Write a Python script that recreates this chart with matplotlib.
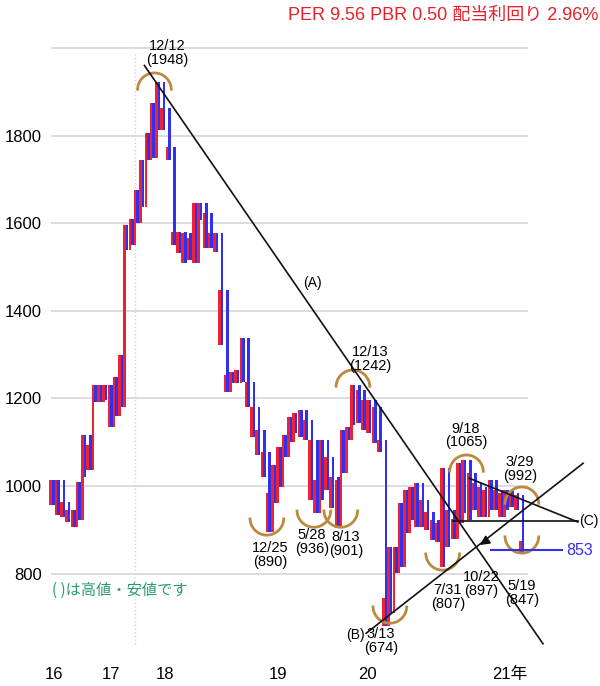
import matplotlib
matplotlib.use("Agg")
import matplotlib.pyplot as plt
from matplotlib.patches import Arc
from matplotlib import font_manager

# weekly boxes, left to right (high / low of each box)
bar_hi = [1014, 1014, 963, 945, 945, 1009, 1116, 1094, 1230, 1230,
          1230, 1230, 1250, 1299, 1596, 1610, 1676, 1744, 1806, 1874,
          1922, 1863, 1774, 1580, 1580, 1578, 1566, 1646, 1646, 1623,
          1578, 1578, 1447, 1253, 1260, 1265, 1338, 1237, 1180, 1128,
          1078, 984, 1048, 1089, 1116, 1157, 1166, 1173, 1151, 1105,
          1014, 1105, 1066, 1020, 1014, 1128, 1135, 1230, 1219, 1196,
          1196, 1180, 1105, 745, 861, 861, 961, 991, 998, 1007,
          968, 941, 922, 916, 1041, 945, 925, 1052, 1059, 1030,
          1007, 998, 991, 1014, 991, 984, 991, 984, 979, 875]
bar_lo = [957, 934, 929, 918, 906, 922, 1020, 1036, 1192, 1192,
          1196, 1135, 1160, 1180, 1539, 1550, 1600, 1637, 1744, 1749,
          1813, 1813, 1744, 1550, 1532, 1509, 1516, 1509, 1607, 1543,
          1543, 1534, 1322, 1215, 1235, 1235, 1237, 1180, 1112, 1071,
          1020, 895, 961, 998, 1066, 1100, 1121, 1112, 1105, 968,
          938, 968, 991, 950, 905, 1030, 1105, 1140, 1144, 1128,
          1121, 1098, 1078, 680, 710, 801, 815, 893, 922, 906,
          906, 900, 877, 872, 815, 860, 880, 915, 938, 922,
          945, 929, 929, 945, 945, 929, 945, 952, 945, 850]

year_pos = [0.4, 11.2, 21.4, 42.8, 59.8, 86.7]
year_labels = ["16", "17", "18", "19", "20", "21年"]

# circled highs / lows: (x, centre price, label, label x, label y)
tops = [(19.4, 1904, "12/12\n(1948)", 21.8, 1989),
        (57.0, 1226, "12/13\n(1242)", 60.2, 1290),
        (78.5, 1032, "9/18\n(1065)", 78.4, 1116),
        (89.0, 959, "3/29\n(992)", 88.6, 1039)]
bottoms = [(40.7, 927, "12/25\n(890)", 41.3, 843),
           (49.6, 945, "5/28\n(936)", 49.2, 872),
           (54.7, 945, "8/13\n(901)", 55.7, 868),
           (64.0, 726, "3/13\n(674)", 62.3, 646),
           (74.0, 847, "7/31\n(807)", 75.0, 747),
           (89.0, 886, "5/19\n(847)", 89.0, 756)]
extra_labels = [(81.3, 776, "10/22\n(897)")]

# trend lines (x0, p0, x1, p1)
line_a = (17.5, 1960, 93.0, 640)
line_b = (59.5, 664, 100.6, 1052)
line_c_up = (79.0, 1018, 99.6, 918)
line_c_flat = (76.0, 921, 99.6, 921)
support = 853

RED = "#ee2233"
BLUE = "#3030ee"
ARC = "#bb8a3e"


def pick(names):
    for n in names:
        try:
            font_manager.findfont(n, fallback_to_default=False)
            return n
        except Exception:
            pass
    return "DejaVu Sans"


base = pick(["Liberation Sans", "Arial"])
narrow = pick(["Liberation Sans Narrow", "Liberation Sans"])
plt.rcParams["font.family"] = [base, "Noto Sans CJK JP"]

fig = plt.figure(figsize=(6, 6.86), dpi=100)
ax = fig.add_axes([45 / 600, 1 - 660 / 686, 555 / 600, 630 / 686])
ax.set_xlim(-1.33, 103.8)
ax.set_ylim(603, 2041)
for s in ax.spines.values():
    s.set_visible(False)

# grid
ax.hlines([800, 1000, 1200, 1400, 1600, 1800, 2000], -0.2, 90.2,
          color="#d9d9d9", lw=1.3, zorder=0)
ax.vlines(15.7, 640, 1990, color="#e2cdd3", lw=1, ls=":", zorder=0)

# boxes: red stripe left, blue stripe right
for i in range(len(bar_hi)):
    hi, lo = bar_hi[i], bar_lo[i]
    r_lo, b_hi = lo, hi
    if i > 0:
        up = (hi + lo) > (bar_hi[i - 1] + bar_lo[i - 1])
        if up:
            r_lo = min(lo, bar_lo[i - 1])
        else:
            b_hi = max(hi, bar_hi[i - 1])
    ax.bar(i - 0.24, hi - r_lo, bottom=r_lo, width=0.48, color=RED, lw=0, zorder=2)
    ax.bar(i + 0.24, b_hi - lo, bottom=lo, width=0.48, color=BLUE, lw=0, zorder=2)

# arcs and their labels
aw, ah = 6.4, 78
lab_kw = dict(ha="center", va="center", fontsize=10.5, family=narrow,
              linespacing=0.95, zorder=5)
for x, p, lab, tx, ty in tops:
    ax.add_patch(Arc((x, p), aw, ah, theta1=-22, theta2=202, color=ARC, lw=2, zorder=3))
    ax.text(tx, ty, lab, **lab_kw)
for x, p, lab, tx, ty in bottoms:
    ax.add_patch(Arc((x, p), aw, ah, theta1=158, theta2=382, color=ARC, lw=2, zorder=3))
    ax.text(tx, ty, lab, **lab_kw)
for tx, ty, lab in extra_labels:
    ax.text(tx, ty, lab, **lab_kw)

for ln in (line_a, line_b, line_c_up, line_c_flat):
    ax.plot([ln[0], ln[2]], [ln[1], ln[3]], color="#111111", lw=1.2, zorder=4,
            clip_on=False)

ax.text(49.4, 1463, "(A)", ha="center", va="center", fontsize=10, family=narrow)
ax.text(57.4, 660, "(B)", ha="center", va="center", fontsize=10, family=narrow)
ax.text(99.8, 921, "(C)", ha="left", va="center", fontsize=10, family=narrow)

ax.annotate("", xy=(80.6, 862), xytext=(82.6, 878),
            arrowprops=dict(arrowstyle="-|>", color="#111111", lw=1.2,
                            mutation_scale=14), zorder=5)

ax.hlines(support, 83, 96.8, color=BLUE, lw=1.5, zorder=4)
ax.text(97.4, support, str(support), color=BLUE, ha="left", va="center", fontsize=11.5)

ax.text(0.0, 763, "( )は高値・安値です", color="#2a9a72", ha="left", va="center",
        fontsize=11, family=["Noto Sans CJK JP"])

ax.set_yticks([800, 1000, 1200, 1400, 1600, 1800])
ax.set_yticklabels(["800", "1000", "1200", "1400", "1600", "1800"], fontsize=12)
ax.set_xticks(year_pos)
ax.set_xticklabels(year_labels, fontsize=12)
ax.tick_params(length=0, pad=2)
ax.tick_params(axis="x", pad=5)

fig.text(598 / 600, 1 - 15 / 686, "PER 9.56 PBR 0.50 配当利回り 2.96%", color="#e8202a",
         ha="right", va="center", fontsize=13)

fig.savefig("out.png", dpi=100)
